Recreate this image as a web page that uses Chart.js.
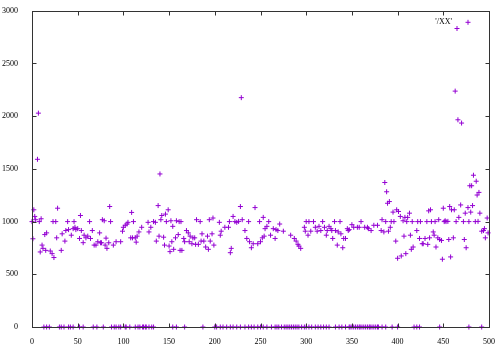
<!DOCTYPE html>
<html>
<head>
<meta charset="utf-8">
<script src="https://cdn.jsdelivr.net/npm/chart.js@4"></script>
<style>
 body{margin:0;background:#fff;}
 canvas{display:block;}
</style>
</head>
<body>
<canvas id="plot" width="500" height="348"></canvas>
<script>
// points above zero
const xs=[0,1,2,3,4,6,7,8,9,10,11,12,14,15,16,20,22,23,24,26,27,28,32,33,36,37,39,40,43,45,46,47,48,50,52,53,54,56,57,59,61,63,64,66,68,70,72,74,75,76,77,79,80,81,
 82,84,85,86,89,92,97,99,100,102,104,105,108,109,110,111,113,114,115,117,120,127,128,130,133,135,136,138,139,140,141,142,144,145,146,147,149,150,151,152,153,154,155,157,158,160,161,162,163,164,
 166,167,169,171,172,173,175,176,178,179,180,182,184,185,186,188,190,192,193,194,195,197,198,199,205,206,207,211,215,216,217,218,220,222,224,226,228,229,230,233,235,237,238,240,242,244,
 247,249,250,252,253,254,255,257,259,261,264,266,267,269,271,275,283,287,289,291,292,294,298,299,300,302,303,305,308,310,312,314,316,318,320,322,323,325,327,
 328,329,331,332,334,335,337,338,340,341,343,345,346,347,350,352,356,358,360,364,367,368,371,374,378,382,383,385,386,387,388,389,390,391,392,393,395,396,398,399,400,401,403,404,406,407,408,409,410,411,413,414,415,416,
 417,421,422,424,425,427,428,430,432,433,434,435,436,437,439,440,441,442,444,445,446,448,449,450,451,452,453,455,456,457,458,459,461,462,463,464,465,466,467,469,470,472,473,474,475,477,478,479,480,481,482,483,485,486,487,488,489,490,492,494,495,496,498,499];
const ys=[1000,837,1112,1049,1018,1591,2029,1000,712,1027,777,746,877,727,893,721,696,1000,659,1000,846,1127,727,884,815,915,1000,924,871,933,1000,946,924,933,840,1058,915,800,871,846,862,1000,840,915,777,777,809,893,799,799,1018,1008,777,843,
 746,799,1143,1000,777,809,809,909,946,965,977,993,846,1087,846,1000,846,805,862,902,946,993,902,946,1000,993,815,1152,862,1452,1018,1058,852,777,1071,1000,1112,768,715,1008,809,955,737,846,1008,877,1000,727,1000,727,
 840,809,915,893,809,862,790,846,846,784,1018,784,1000,815,884,815,759,862,737,1018,815,884,1034,777,993,871,909,946,946,1000,705,746,1049,1000,993,1002,1143,2176,1018,915,840,1000,809,752,790,1133,
 790,1000,809,846,1040,862,933,955,1000,871,933,840,924,915,977,909,871,840,815,784,768,746,946,909,1000,871,1000,909,1000,946,909,955,915,1000,946,871,915,955,933,
 915,840,1000,915,777,902,1000,884,752,840,840,933,915,924,971,946,946,946,1000,946,946,933,915,965,965,915,1018,902,1371,1000,1283,1174,909,1190,946,1000,1090,1000,815,1112,652,1096,1049,674,1008,862,1040,696,1000,1040,1080,871,737,1000,
 759,915,1000,840,1000,790,790,840,1000,784,1102,846,1112,1000,902,871,1000,759,846,1018,830,821,643,1127,1000,1008,1000,1002,830,1143,665,1112,846,1112,2238,1000,2832,1966,1040,1158,1935,1000,830,1080,752,1133,1000,1340,1090,1340,1152,1440,1000,1383,1252,1002,1277,1080,909,915,933,846,1034,893];
// points sitting on zero
const zeroXs=[13,16,19,30,32,35,40,42,45,52,56,67,71,78,87,90,92,95,97,102,103,107,113,116,118,121,122,124,125,128,131,133,154,158,167,187,200,202,206,209,213,217,220,224,228,233,237,
 240,243,247,250,253,257,262,266,268,270,273,276,278,280,282,284,286,288,290,292,295,298,300,303,306,310,313,316,319,322,325,
 332,336,339,343,347,348,350,352,354,356,358,359,361,363,365,367,369,370,372,374,376,378,379,383,387,394,400,
 418,421,424,446,478,492];
const seriesName="'/XX'";
const xTicks=[0,500,50];
const yTicks=[0,3000,500];

const purple="#9400d3";
const serif="'Liberation Serif','DejaVu Serif',serif";

const points=xs.map((x,i)=>({x:x,y:ys[i]}))
 .concat(zeroXs.map(x=>({x:x,y:0})));

// gnuplot style frame with inward ticks on all four sides, plus the key
const frame={
 id:"frame",
 afterDraw(chart){
   const ctx=chart.ctx, a=chart.chartArea;
   const sx=chart.scales.x, sy=chart.scales.y;
   ctx.save();
   ctx.strokeStyle="#333";
   ctx.lineWidth=1;
   const L=Math.round(a.left)+0.5, R=Math.round(a.right)+0.5;
   const T=Math.round(a.top)+0.5, B=Math.round(a.bottom)+0.5;
   ctx.strokeRect(L,T,R-L,B-T);
   ctx.beginPath();
   sx.ticks.forEach(t=>{
     const px=Math.round(sx.getPixelForValue(t.value))+0.5;
     ctx.moveTo(px,B);ctx.lineTo(px,B-4);
     ctx.moveTo(px,T);ctx.lineTo(px,T+4);
   });
   sy.ticks.forEach(t=>{
     const py=Math.round(sy.getPixelForValue(t.value))+0.5;
     ctx.moveTo(L,py);ctx.lineTo(L+4,py);
     ctx.moveTo(R,py);ctx.lineTo(R-4,py);
   });
   ctx.stroke();

   // key
   ctx.fillStyle="#000";
   ctx.font="8px "+serif;
   ctx.textAlign="right";
   ctx.textBaseline="middle";
   ctx.fillText(seriesName,a.right-37,a.top+11);
   const kx=a.right-21, ky=a.top+11.5;
   ctx.strokeStyle=purple;
   ctx.beginPath();
   ctx.moveTo(kx-2.5,ky);ctx.lineTo(kx+2.5,ky);
   ctx.moveTo(kx,ky-2.5);ctx.lineTo(kx,ky+2.5);
   ctx.stroke();
   ctx.restore();
 }
};

new Chart(document.getElementById("plot"),{
 type:"scatter",
 data:{
   datasets:[{
     label:seriesName,
     data:points,
     pointStyle:"cross",
     pointRadius:2.5,
     pointBorderWidth:1,
     borderColor:purple,
     backgroundColor:purple,
     clip:false
   }]
 },
 options:{
   responsive:false,
   animation:false,
   devicePixelRatio:1,
   layout:{padding:{top:5,right:11,left:0,bottom:0}},
   plugins:{legend:{display:false},tooltip:{enabled:false}},
   scales:{
     x:{
       type:"linear",
       min:xTicks[0],max:xTicks[1],
       grid:{display:false},
       border:{display:false},
       ticks:{stepSize:xTicks[2],padding:2,color:"#000",font:{family:serif,size:8},maxRotation:0,callback:v=>String(v)},
       afterFit:s=>{s.height=21;}
     },
     y:{
       min:yTicks[0],max:yTicks[1],
       grid:{display:false},
       border:{display:false},
       ticks:{stepSize:yTicks[2],padding:6,color:"#000",font:{family:serif,size:8},callback:v=>String(v)},
       afterFit:s=>{s.width=32;}
     }
   }
 },
 plugins:[frame]
});
</script>
</body>
</html>
